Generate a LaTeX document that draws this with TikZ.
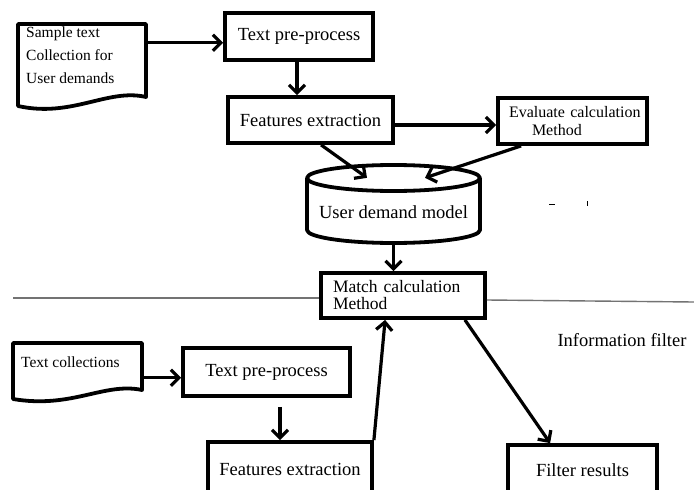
\documentclass[tikz,border=0pt]{standalone}
\usepackage{fontspec}
\setmainfont{Liberation Serif}
\usetikzlibrary{arrows.meta,calc}
\begin{document}
\begin{tikzpicture}[x=1pt,y=-1pt,
  box/.style={draw, line width=3.8pt, inner sep=0pt, font=\fontsize{18.5}{22}\selectfont},
  ghost/.style={inner sep=0pt},
  shapeline/.style={line width=3.8pt, line join=round},
  conn/.style={line width=3.2pt, -{Straight Barb[length=8pt,width=16pt]}},
  sepline/.style={line width=1.4pt, draw=black!55},
  doctext/.style={anchor=north west, align=left, inner sep=0pt, font=\fontsize{15.5}{23}\selectfont}
]
\clip (0,0) rectangle (694,490);
\fill[white] (0,0) rectangle (694,490);

% separator lines
\coordinate (l0) at (13,298);
\coordinate (r1) at (694,302);

% --- top part ---
\node[ghost, minimum width=128pt, minimum height=84pt] (doc1) at (82,66) {};
\draw[shapeline] (18,24) -- (146,24) -- (146,97) .. controls (108,88) and (72,118) .. (18,106) -- cycle;
\node[doctext] (doc1t) at (26,27) {Sample text\\Collection for\\User demands};

\node[box, minimum width=148pt, minimum height=47pt] (tp1) at (299,36.5) {Text pre-process};
\node[box, minimum width=165pt, minimum height=46pt] (fe1) at (310.5,120) {Features extraction};
\node[box, minimum width=149pt, minimum height=46pt, text width=149pt, align=left,
      font=\fontsize{16}{18}\selectfont] (ev) at (572.5,121) {\hspace*{11pt}Evaluate calculation\\\hspace*{34pt}Method};

% cylinder
\node[ghost, minimum width=173pt, minimum height=78pt] (udm) at (393.5,204) {};
\draw[shapeline, fill=white] (307,178) -- (307,230) arc[start angle=180, end angle=360, x radius=86.5pt, y radius=13pt] -- (480,178);
\draw[shapeline] (393.5,178) ellipse [x radius=86.5pt, y radius=13pt];
\node[ghost, font=\fontsize{18.5}{22}\selectfont] (udmt) at (393.5,212) {User demand model};

\node[box, minimum width=164pt, minimum height=45pt, text width=164pt, align=left,
      font=\fontsize{17.5}{17}\selectfont] (match) at (403,295.5) {\hspace*{12pt}Match calculation\\\hspace*{12pt}Method};

\draw[sepline] (l0) -- (l0 -| match.west);
\draw[sepline] (match.east |- 0,300) -- (r1);

\node[ghost, font=\fontsize{18.5}{22}\selectfont] (info) at (622,340) {Information filter};

\draw[line width=1pt] (549,204) -- (555,204);
\draw[line width=1pt] (587,201) -- (587,206);

% --- bottom part ---
\node[ghost, minimum width=129pt, minimum height=57pt] (tc) at (77.5,371.5) {};
\draw[shapeline] (13,343) -- (142,343) -- (142,390) .. controls (104,382) and (72,409) .. (13,399) -- cycle;
\node[doctext] (tct) at (21,357) {Text collections};

\node[box, minimum width=167pt, minimum height=48pt] (tp2) at (266.5,372) {Text pre-process};
\node[box, minimum width=164pt, minimum height=55pt] (fe2) at (290,469.5) {Features extraction};
\node[box, minimum width=149pt, minimum height=50pt] (fr) at (582.5,470) {Filter results};

% connectors
\draw[conn] ($(doc1.north east)+(0,19)$) coordinate (s1) -- (s1 -| tp1.west);
\draw[conn] ($(tp1.south)+(-2,0)$) coordinate (s2) -- (s2 |- fe1.north);
\draw[conn] ($(fe1.east)+(0,5)$) coordinate (s3) -- (s3 -| ev.west);
\draw[conn] ($(fe1.south west)+(95,0)$) -- ($(udm.north)+(-26.5,13)$);
\draw[conn] ($(ev.south west)+(25,0)$) -- ($(udm.north)+(31.5,13)$);
\draw[conn] (udm.south) -- (udm.south |- match.north);
\draw[conn] ($(match.south east)+(-22,0)$) -- ($(fr.north west)+(44,0)$);
\draw[conn] ($(tc.north east)+(0,35)$) coordinate (s4) -- (s4 -| tp2.west);
\draw[conn] ($(tp2.south)+(13.5,9)$) coordinate (s5) -- (s5 |- fe2.north);
\draw[conn] (fe2.north east) -- ($(match.south west)+(66,0)$);
\end{tikzpicture}
\end{document}
